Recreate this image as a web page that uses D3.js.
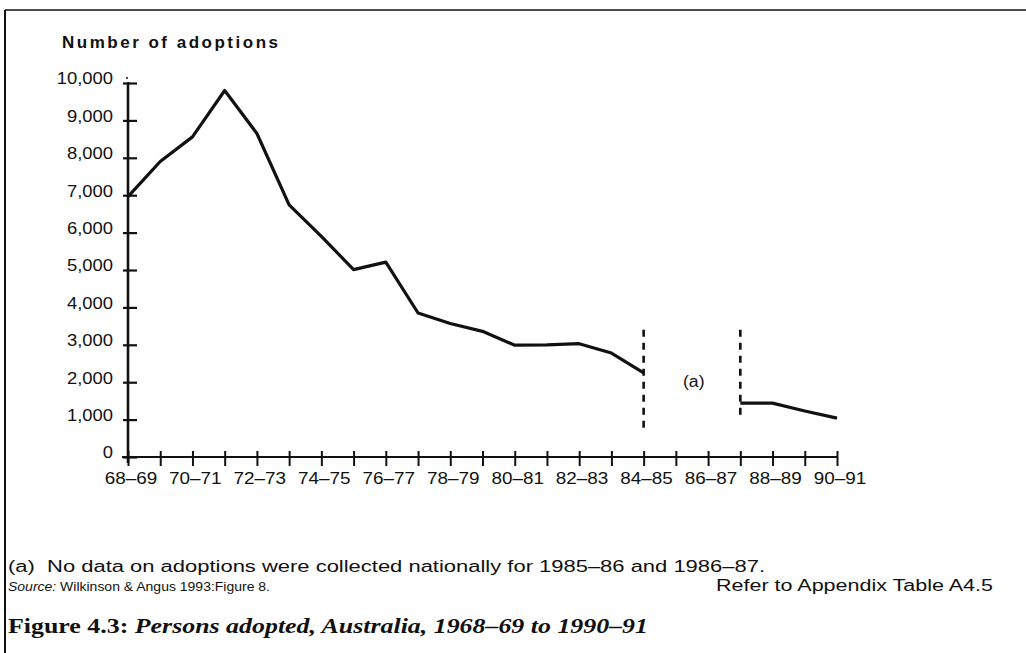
<!DOCTYPE html>
<html>
<head>
<meta charset="utf-8">
<script src="https://cdn.jsdelivr.net/npm/d3@7"></script>
<style>
  body { margin: 0; background: #fff; }
  svg { display: block; }
  text { fill: #111; }
</style>
</head>
<body>
<div id="vis"></div>
<script>
const FRAME_WIDTH = 1026;
const FRAME_HEIGHT = 653;
const SANS = "Liberation Sans, Arial, sans-serif";

// seasons 1968-69 .. 1990-91 (no data 85-86, 86-87)
const SEASONS = ["68–69","69–70","70–71","71–72","72–73","73–74","74–75","75–76",
                 "76–77","77–78","78–79","79–80","80–81","81–82","82–83","83–84",
                 "84–85","85–86","86–87","87–88","88–89","89–90","90–91"];
const ADOPTIONS = [6960, 7900, 8560, 9800, 8650, 6740, 5900, 5010,
                   5210, 3850, 3570, 3360, 2990, 3000, 3030, 2780,
                   2250, null, null, 1440, 1440, 1230, 1040];
const X_LABELS = ["68–69","70–71","72–73","74–75","76–77","78–79",
                  "80–81","82–83","84–85","86–87","88–89","90–91"];
const Y_TICKS = [0, 1000, 2000, 3000, 4000, 5000, 6000, 7000, 8000, 9000, 10000];

// dotted markers either side of the gap
const GAP_MARKERS = [{season: "84–85", top: 3400, bottom: 650},
                     {season: "87–88", top: 3400, bottom: 1050}];

const data = SEASONS.map((s, i) => ({season: s, value: ADOPTIONS[i]}));

// the scanned type is wider than Arial, stretch glyphs sideways
function stretch(sel, factor) {
    sel.each(function() {
        const w = this.getComputedTextLength();
        d3.select(this).attr("textLength", w * factor)
                       .attr("lengthAdjust", "spacingAndGlyphs");
    });
}

const FRAME = d3.select("#vis")
                .append("svg")
                  .attr("width", FRAME_WIDTH)
                  .attr("height", FRAME_HEIGHT);

// page frame
FRAME.append("line")
     .attr("x1", 5).attr("y1", 10).attr("x2", 1026).attr("y2", 10)
     .attr("stroke", "#111").attr("stroke-width", 1.5);
FRAME.append("line")
     .attr("x1", 5).attr("y1", 10).attr("x2", 5).attr("y2", 653)
     .attr("stroke", "#111").attr("stroke-width", 2);

const X_SCALE = d3.scalePoint()
                  .domain(SEASONS)
                  .range([128, 837]);

const Y_SCALE = d3.scaleLinear()
                  .domain([0, 10000])
                  .range([457, 83]);

// y axis
const yAxis = FRAME.append("g")
     .attr("transform", "translate(128,0)")
     .call(d3.axisLeft(Y_SCALE)
             .tickValues(Y_TICKS)
             .tickFormat(d3.format(","))
             .tickSize(0)
             .tickPadding(15));
yAxis.select(".domain").remove();
yAxis.selectAll(".tick line")
     .attr("x1", -5).attr("x2", 9)
     .attr("stroke", "#111").attr("stroke-width", 2.2);
yAxis.selectAll(".tick text")
     .attr("dy", "0.05em")
     .attr("font-family", SANS)
     .attr("font-size", "16px")
     .attr("fill", "#111")
     .call(stretch, 1.15);
yAxis.append("line")
     .attr("x1", 0).attr("x2", 0)
     .attr("y1", Y_SCALE(10000) - 1).attr("y2", Y_SCALE(0) + 6)
     .attr("stroke", "#111").attr("stroke-width", 2.6);
yAxis.append("circle")
     .attr("cx", -1).attr("cy", Y_SCALE(10000) - 5).attr("r", 1)
     .attr("fill", "#111");

// x axis
const xAxis = FRAME.append("g")
     .attr("transform", "translate(0," + Y_SCALE(0) + ")")
     .call(d3.axisBottom(X_SCALE)
             .tickFormat((d) => X_LABELS.includes(d) ? d : "")
             .tickSize(0)
             .tickPadding(16));
xAxis.select(".domain").remove();
xAxis.append("line")
     .attr("x1", 122).attr("x2", X_SCALE("90–91"))
     .attr("y1", 0).attr("y2", 0)
     .attr("stroke", "#111").attr("stroke-width", 2.2);
xAxis.selectAll(".tick line")
     .attr("y1", -6).attr("y2", 9)
     .attr("stroke", "#111").attr("stroke-width", 2);
xAxis.selectAll(".tick text")
     .attr("dy", "0.71em")
     .attr("dx", "0.15em")
     .attr("font-family", SANS)
     .attr("font-size", "16px")
     .attr("fill", "#111")
     .call(stretch, 1.18);

// the series
const line = d3.line()
               .defined((d) => d.value !== null)
               .x((d) => X_SCALE(d.season))
               .y((d) => Y_SCALE(d.value));

FRAME.append("path")
     .datum(data)
     .attr("d", line)
     .attr("fill", "none")
     .attr("stroke", "#111")
     .attr("stroke-width", 3.2)
     .attr("stroke-linejoin", "round");

FRAME.selectAll(".gap")
     .data(GAP_MARKERS)
     .enter()
     .append("line")
       .attr("class", "gap")
       .attr("x1", (d) => X_SCALE(d.season))
       .attr("x2", (d) => X_SCALE(d.season))
       .attr("y1", (d) => Y_SCALE(d.top))
       .attr("y2", (d) => Y_SCALE(d.bottom))
       .attr("stroke", "#111")
       .attr("stroke-width", 2.6)
       .attr("stroke-dasharray", "7,6");

FRAME.append("text")
     .attr("x", 683).attr("y", 387)
     .attr("font-family", SANS)
     .attr("font-size", "16px")
     .text("(a)")
     .call(stretch, 1.1);

// axis title
FRAME.append("text")
     .attr("x", 62).attr("y", 48)
     .attr("font-family", SANS)
     .attr("font-size", "17px")
     .attr("font-weight", "bold")
     .attr("textLength", 216)
     .attr("lengthAdjust", "spacing")
     .text("Number of adoptions");

// notes
FRAME.append("text")
     .attr("x", 8).attr("y", 572)
     .attr("font-family", SANS)
     .attr("font-size", "16px")
     .attr("textLength", 757)
     .attr("lengthAdjust", "spacingAndGlyphs")
     .attr("xml:space", "preserve")
     .text("(a)  No data on adoptions were collected nationally for 1985–86 and 1986–87.");

const src = FRAME.append("text")
     .attr("x", 8).attr("y", 591)
     .attr("font-family", SANS)
     .attr("font-size", "13.5px")
     .attr("textLength", 262)
     .attr("lengthAdjust", "spacingAndGlyphs");
src.append("tspan").attr("font-style", "italic").text("Source:");
src.append("tspan").text(" Wilkinson & Angus 1993:Figure 8.");

FRAME.append("text")
     .attr("x", 716).attr("y", 591)
     .attr("font-family", SANS)
     .attr("font-size", "16px")
     .attr("textLength", 277)
     .attr("lengthAdjust", "spacingAndGlyphs")
     .text("Refer to Appendix Table A4.5");

const cap = FRAME.append("text")
     .attr("x", 8).attr("y", 633)
     .attr("font-family", "Liberation Serif, Times New Roman, serif")
     .attr("font-size", "20px")
     .attr("font-weight", "bold")
     .attr("textLength", 640)
     .attr("lengthAdjust", "spacingAndGlyphs");
cap.append("tspan").text("Figure 4.3: ");
cap.append("tspan").attr("font-style", "italic").text("Persons adopted, Australia, 1968–69 to 1990–91");
</script>
</body>
</html>
